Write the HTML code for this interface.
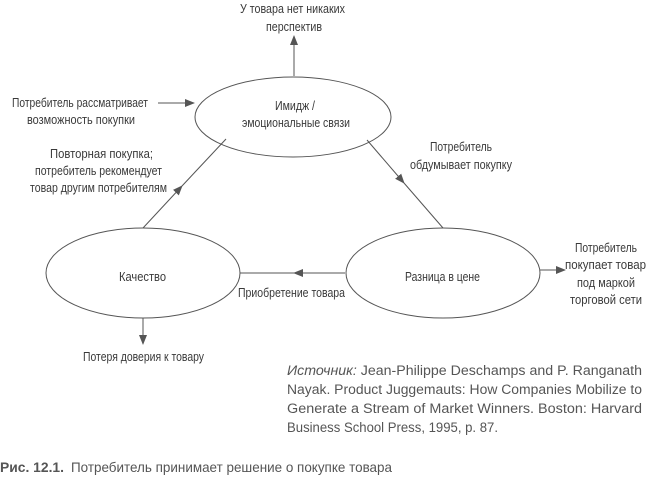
<!DOCTYPE html>
<html><head><meta charset="utf-8"><style>
html,body{margin:0;padding:0;background:#fff;}
svg{display:block}
text{font-family:"Liberation Sans",sans-serif;fill:#3a3a3a;font-size:13px}
.s{font-size:13.5px;fill:#555}
</style></head><body>
<svg width="650" height="477" viewBox="0 0 650 477" xmlns="http://www.w3.org/2000/svg">
<defs><marker id="a" markerWidth="10" markerHeight="8" refX="9" refY="4" orient="auto" markerUnits="userSpaceOnUse"><path d="M0,0 L10,4 L0,8 Z" fill="#555"/></marker></defs>
<g fill="none" stroke="#555" stroke-width="1">
<ellipse cx="293" cy="117" rx="98" ry="40"/>
<ellipse cx="143" cy="273" rx="97" ry="45"/>
<ellipse cx="443" cy="273" rx="97" ry="45"/>
<line x1="294" y1="76" x2="294" y2="36" marker-end="url(#a)"/>
<line x1="158" y1="103" x2="194" y2="103" marker-end="url(#a)"/>
<line x1="143" y1="228" x2="182" y2="186" marker-end="url(#a)"/>
<line x1="182" y1="186" x2="226" y2="139"/>
<line x1="367" y1="140" x2="404" y2="183" marker-end="url(#a)"/>
<line x1="404" y1="183" x2="443" y2="228"/>
<line x1="345" y1="273" x2="294" y2="273" marker-end="url(#a)"/>
<line x1="294" y1="273" x2="240" y2="273"/>
<line x1="540" y1="270" x2="565" y2="270" marker-end="url(#a)"/>
<line x1="143" y1="318" x2="143" y2="344" marker-end="url(#a)"/>
</g>
<text x="240" y="13" textLength="105" lengthAdjust="spacingAndGlyphs">У товара нет никаких</text>
<text x="266" y="31" textLength="56" lengthAdjust="spacingAndGlyphs">перспектив</text>
<text x="12" y="107" textLength="136" lengthAdjust="spacingAndGlyphs">Потребитель рассматривает</text>
<text x="27" y="124" textLength="108" lengthAdjust="spacingAndGlyphs">возможность покупки</text>
<text x="275" y="110" textLength="40" lengthAdjust="spacingAndGlyphs">Имидж /</text>
<text x="242" y="127" textLength="108" lengthAdjust="spacingAndGlyphs">эмоциональные связи</text>
<text x="50" y="158" textLength="103" lengthAdjust="spacingAndGlyphs">Повторная покупка;</text>
<text x="35" y="175" textLength="127" lengthAdjust="spacingAndGlyphs">потребитель рекомендует</text>
<text x="30" y="192" textLength="137" lengthAdjust="spacingAndGlyphs">товар другим потребителям</text>
<text x="430" y="151" textLength="62" lengthAdjust="spacingAndGlyphs">Потребитель</text>
<text x="410" y="169" textLength="102" lengthAdjust="spacingAndGlyphs">обдумывает покупку</text>
<text x="119" y="281" textLength="47" lengthAdjust="spacingAndGlyphs">Качество</text>
<text x="405" y="281" textLength="75" lengthAdjust="spacingAndGlyphs">Разница в цене</text>
<text x="238" y="297" textLength="107" lengthAdjust="spacingAndGlyphs">Приобретение товара</text>
<text x="575" y="252" textLength="62" lengthAdjust="spacingAndGlyphs">Потребитель</text>
<text x="565" y="269" textLength="81" lengthAdjust="spacingAndGlyphs">покупает товар</text>
<text x="577" y="287" textLength="58" lengthAdjust="spacingAndGlyphs">под маркой</text>
<text x="570" y="304" textLength="72" lengthAdjust="spacingAndGlyphs">торговой сети</text>
<text x="83" y="361" textLength="121" lengthAdjust="spacingAndGlyphs">Потеря доверия к товару</text>
<text class="s" x="287" y="375" textLength="355" lengthAdjust="spacingAndGlyphs"><tspan font-style="italic">Источник:</tspan> Jean-Philippe Deschamps and P. Ranganath</text>
<text class="s" x="287" y="394" textLength="355" lengthAdjust="spacingAndGlyphs">Nayak. Product Juggemauts: How Companies Mobilize to</text>
<text class="s" x="287" y="413" textLength="355" lengthAdjust="spacingAndGlyphs">Generate a Stream of Market Winners. Boston: Harvard</text>
<text class="s" x="287" y="432" textLength="211" lengthAdjust="spacingAndGlyphs">Business School Press, 1995, p. 87.</text>
<text x="0" y="472" style="font-size:14px;fill:#555;font-weight:bold" textLength="64" lengthAdjust="spacingAndGlyphs">Рис. 12.1.</text>
<text x="71" y="472" style="font-size:14px;fill:#555" textLength="321" lengthAdjust="spacingAndGlyphs">Потребитель принимает решение о покупке товара</text>
</svg>
</body></html>
